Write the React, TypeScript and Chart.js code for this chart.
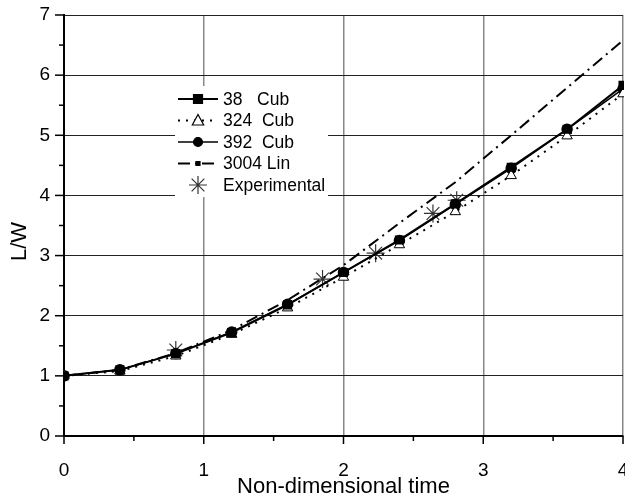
import React, { useEffect, useRef } from 'react';
import { Chart, registerables } from 'chart.js';

Chart.register(...registerables);

// ---- data ----
const cubTimes = [0, 0.4, 0.8, 1.2, 1.6, 2.0, 2.4, 2.8, 3.2, 3.6, 4.0];
const cub38 = [1, 1.1, 1.37, 1.72, 2.18, 2.72, 3.26, 3.86, 4.47, 5.1, 5.83];
const cub324 = [1, 1.08, 1.33, 1.69, 2.13, 2.64, 3.18, 3.73, 4.33, 4.99, 5.69];
const cub392 = [1, 1.1, 1.37, 1.73, 2.19, 2.72, 3.25, 3.85, 4.45, 5.1, 5.77];
const linTimes = [0, 0.4, 0.8, 1.2, 1.6, 2.0, 2.4, 2.8, 3.2, 3.6, 4.0];
const lin3004 = [1, 1.1, 1.38, 1.76, 2.26, 2.84, 3.54, 4.22, 5.0, 5.79, 6.58];
const expTimes = [0.8, 1.85, 2.23, 2.64, 2.81];
const expValues = [1.43, 2.61, 3.04, 3.7, 3.92];
const seriesLabels = ['38   Cub', '324  Cub', '392  Cub', '3004 Lin', 'Experimental'];
const xTitle = 'Non-dimensional time';
const yTitle = 'L/W';
const xRange = [0, 4];
const yRange = [0, 7];

const FONT = "'Liberation Sans', Arial, sans-serif";

const toXY = (xs: number[], ys: number[]) => xs.map((x, i) => ({ x, y: ys[i] }));

function drawMarker(ctx: CanvasRenderingContext2D, style: string, x: number, y: number, r: number, fill: string, stroke: string) {
  ctx.save();
  ctx.fillStyle = fill;
  ctx.strokeStyle = stroke;
  ctx.lineWidth = 1.2;
  ctx.setLineDash([]);
  ctx.beginPath();
  if (style === 'rect') {
    ctx.rect(x - r, y - r, 2 * r, 2 * r);
    ctx.fill();
    ctx.stroke();
  } else if (style === 'circle') {
    ctx.arc(x, y, r, 0, Math.PI * 2);
    ctx.fill();
    ctx.stroke();
  } else if (style === 'triangle') {
    ctx.moveTo(x, y - r);
    ctx.lineTo(x + r * 0.95, y + r * 0.75);
    ctx.lineTo(x - r * 0.95, y + r * 0.75);
    ctx.closePath();
    ctx.fill();
    ctx.stroke();
  } else if (style === 'star') {
    for (let k = 0; k < 4; k++) {
      const a = (k * Math.PI) / 4;
      ctx.moveTo(x - r * Math.sin(a), y - r * Math.cos(a));
      ctx.lineTo(x + r * Math.sin(a), y + r * Math.cos(a));
    }
    ctx.stroke();
  }
  ctx.restore();
}

const axisTicksPlugin = {
  id: 'axisTicks',
  afterDraw(chart: any) {
    const { ctx, chartArea, scales } = chart;
    const x = scales.x;
    const y = scales.y;
    ctx.save();
    ctx.strokeStyle = '#000';
    ctx.lineWidth = 1.5;
    for (let v = xRange[0]; v <= xRange[1] + 1e-6; v += 0.5) {
      const px = x.getPixelForValue(v);
      const len = Math.abs(v - Math.round(v)) < 1e-6 ? 8 : 5;
      ctx.beginPath();
      ctx.moveTo(px, chartArea.bottom);
      ctx.lineTo(px, chartArea.bottom + len);
      ctx.stroke();
    }
    for (let v = yRange[0]; v <= yRange[1] + 1e-6; v += 0.5) {
      const py = y.getPixelForValue(v);
      const len = Math.abs(v - Math.round(v)) < 1e-6 ? 9 : 5;
      ctx.beginPath();
      ctx.moveTo(chartArea.left - len, py);
      ctx.lineTo(chartArea.left, py);
      ctx.stroke();
    }
    // y title
    ctx.fillStyle = '#000';
    ctx.font = `22px ${FONT}`;
    ctx.textAlign = 'center';
    ctx.textBaseline = 'middle';
    ctx.translate(20, (chartArea.top + chartArea.bottom) / 2 + 16);
    ctx.rotate(-Math.PI / 2);
    ctx.fillText(yTitle, 0, 0);
    ctx.restore();
  },
};

const legendPlugin = {
  id: 'boxLegend',
  afterDraw(chart: any) {
    const { ctx, chartArea } = chart;
    const left = chartArea.left + 111;
    const top = chartArea.top + 71;
    const w = 153;
    const h = 111;
    ctx.save();
    ctx.fillStyle = '#fff';
    ctx.fillRect(left, top, w, h);
    chart.data.datasets.forEach((ds: any, i: number) => {
      const ry = top + 13 + i * 21.5;
      if (ds.showLine !== false) {
        ctx.strokeStyle = ds.borderColor;
        ctx.lineWidth = ds.borderWidth;
        ctx.setLineDash(ds.borderDash || []);
        ctx.beginPath();
        ctx.moveTo(left + 3, ry);
        ctx.lineTo(left + 43, ry);
        ctx.stroke();
      }
      const r = ds.legendRadius;
      if (r > 0) {
        drawMarker(ctx, ds.pointStyle, left + 23, ry, r, ds.pointBackgroundColor, ds.pointBorderColor);
      }
      ctx.setLineDash([]);
      ctx.fillStyle = '#000';
      ctx.font = `17.5px ${FONT}`;
      ctx.textAlign = 'left';
      ctx.textBaseline = 'middle';
      ctx.fillText(ds.label, left + 48, ry + 1);
    });
    ctx.restore();
  },
};

export default function App() {
  const ref = useRef<HTMLCanvasElement>(null);

  useEffect(() => {
    if (!ref.current) return;
    const chart = new Chart(ref.current, {
      type: 'line',
      data: {
        datasets: [
          {
            label: seriesLabels[0],
            data: toXY(cubTimes, cub38),
            borderColor: '#000',
            borderWidth: 2,
            pointStyle: 'rect',
            pointRadius: 5,
            pointBackgroundColor: '#000',
            pointBorderColor: '#000',
            legendRadius: 4.5,
            clip: 1,
          } as any,
          {
            label: seriesLabels[1],
            data: toXY(cubTimes, cub324),
            borderColor: '#000',
            borderWidth: 2,
            borderDash: [2, 6],
            pointStyle: 'triangle',
            pointRadius: 6,
            pointBackgroundColor: '#fff',
            pointBorderColor: '#000',
            pointBorderWidth: 1,
            legendRadius: 6,
            clip: 1,
          } as any,
          {
            label: seriesLabels[2],
            data: toXY(cubTimes, cub392),
            borderColor: '#000',
            borderWidth: 1.5,
            pointStyle: 'circle',
            pointRadius: 5,
            pointBackgroundColor: '#000',
            pointBorderColor: '#000',
            legendRadius: 4.5,
            clip: 1,
          } as any,
          {
            label: seriesLabels[3],
            data: toXY(linTimes, lin3004),
            borderColor: '#000',
            borderWidth: 2,
            borderDash: [12, 5, 2, 5],
            pointStyle: 'rect',
            pointRadius: 0,
            pointBackgroundColor: '#000',
            pointBorderColor: '#000',
            legendRadius: 2,
            clip: 1,
          } as any,
          {
            label: seriesLabels[4],
            data: toXY(expTimes, expValues),
            showLine: false,
            borderColor: '#333',
            borderWidth: 1,
            pointStyle: 'star',
            pointRadius: 9,
            pointBorderWidth: 1.2,
            pointBackgroundColor: '#333',
            pointBorderColor: '#333',
            legendRadius: 9,
            clip: 1,
          } as any,
        ],
      },
      options: {
        animation: false,
        responsive: false,
        devicePixelRatio: 1,
        layout: { autoPadding: false, padding: { top: 15, right: 2, left: 0, bottom: 0 } },
        plugins: { legend: { display: false }, tooltip: { enabled: false } },
        elements: { line: { tension: 0 } },
        scales: {
          x: {
            type: 'linear',
            min: xRange[0],
            max: xRange[1],
            afterFit: (s: any) => { s.height = 64; s.paddingLeft = 0; s.paddingRight = 0; },
            ticks: {
              stepSize: 1,
              color: '#000',
              font: { size: 19, family: FONT },
              padding: 15,
              maxRotation: 0,
            },
            grid: { color: '#888', lineWidth: 1.5, tickLength: 8, tickColor: 'transparent' },
            border: { color: '#000', width: 2 },
            title: {
              display: true,
              text: xTitle,
              color: '#000',
              font: { size: 22, family: FONT },
              padding: { top: 0, bottom: 0 },
            },
          },
          y: {
            type: 'linear',
            min: yRange[0],
            max: yRange[1],
            afterFit: (s: any) => { s.width = 64; s.paddingTop = 0; s.paddingBottom = 0; },
            ticks: {
              stepSize: 1,
              color: '#000',
              font: { size: 19, family: FONT },
              padding: 5,
            },
            grid: { color: '#222', lineWidth: 1, tickLength: 9, tickColor: 'transparent' },
            border: { color: '#000', width: 2 },
          },
        },
      },
      plugins: [axisTicksPlugin, legendPlugin],
    });
    return () => chart.destroy();
  }, []);

  return (
    <canvas
      ref={ref}
      width={625}
      height={500}
      style={{ position: 'absolute', left: 0, top: 0, width: 625, height: 500, background: '#fff' }}
    />
  );
}
